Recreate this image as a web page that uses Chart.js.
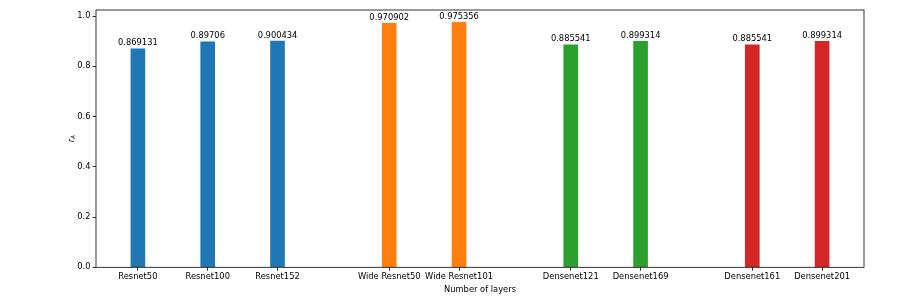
<!DOCTYPE html>
<html>
<head>
<meta charset="utf-8">
<script src="https://cdn.jsdelivr.net/npm/chart.js@4/dist/chart.umd.min.js"></script>
<style>
  html, body { margin: 0; padding: 0; background: #fff; }
  #wrap { width: 913px; height: 305px; position: relative; }
</style>
</head>
<body>
<div id="wrap"><canvas id="c" width="913" height="305"></canvas></div>
<script>
// ---- data ----
const categories = ["Resnet50", "Resnet100", "Resnet152", "Wide Resnet50", "Wide Resnet101",
                    "Densenet121", "Densenet169", "Densenet161", "Densenet201"];
const positions = [0, 1, 2, 3.6, 4.6, 6.2, 7.2, 8.8, 9.8];
const values = [0.869131, 0.89706, 0.900434, 0.970902, 0.975356, 0.885541, 0.899314, 0.885541, 0.899314];
const valueLabels = ["0.869131", "0.89706", "0.900434", "0.970902", "0.975356", "0.885541", "0.899314", "0.885541", "0.899314"];
const groups = [0, 0, 0, 1, 1, 2, 2, 3, 3];
const yTicks = [0, 0.2, 0.4, 0.6, 0.8, 1.0];
const xTitle = "Number of layers";

const palette = ["#1f77b4", "#ff7f0e", "#2ca02c", "#d62728"];
const FONT = "DejaVu Sans";
const FS = 8.33;

const annot = {
  id: 'annot',
  afterDatasetsDraw(chart) {
    const ctx = chart.ctx;
    const meta = chart.getDatasetMeta(0);
    ctx.save();
    ctx.fillStyle = '#000';
    ctx.font = FS + 'px "' + FONT + '"';
    ctx.textAlign = 'center';
    ctx.textBaseline = 'alphabetic';
    meta.data.forEach((bar, i) => {
      ctx.fillText(valueLabels[i], bar.x, bar.y - 3.5);
    });
    ctx.restore();
  },
  afterDraw(chart) {
    const ctx = chart.ctx;
    const a = chart.chartArea;
    ctx.save();
    ctx.strokeStyle = '#000';
    ctx.lineWidth = 0.8;
    ctx.strokeRect(a.left, a.top, a.right - a.left, a.bottom - a.top);
    // x title
    ctx.fillStyle = '#000';
    ctx.font = FS + 'px "' + FONT + '"';
    ctx.textAlign = 'center';
    ctx.textBaseline = 'middle';
    ctx.fillText(xTitle, (a.left + a.right) / 2, 289.5);
    // y title: r_A (italic, subscript)
    ctx.translate(70.5, (a.top + a.bottom) / 2);
    ctx.rotate(-Math.PI / 2);
    ctx.font = 'italic ' + FS + 'px "' + FONT + '"';
    ctx.textAlign = 'left';
    ctx.textBaseline = 'alphabetic';
    const rw = ctx.measureText('r').width;
    ctx.font = 'italic ' + (FS * 0.7) + 'px "' + FONT + '"';
    const aw = ctx.measureText('A').width;
    const total = rw + aw;
    ctx.font = 'italic ' + FS + 'px "' + FONT + '"';
    ctx.fillText('r', -total / 2, 3);
    ctx.font = 'italic ' + (FS * 0.7) + 'px "' + FONT + '"';
    ctx.fillText('A', -total / 2 + rw, 4.5);
    ctx.restore();
  }
};

new Chart(document.getElementById('c'), {
  type: 'bar',
  data: {
    datasets: [{
      data: positions.map((p, i) => ({ x: p, y: values[i] })),
      backgroundColor: groups.map(g => palette[g]),
      borderWidth: 0,
      barThickness: 14
    }]
  },
  options: {
    responsive: false,
    animation: false,
    devicePixelRatio: 1,
    layout: { padding: { left: 0, right: 49, top: 10, bottom: 0 } },
    plugins: { legend: { display: false }, tooltip: { enabled: false } },
    scales: {
      x: {
        type: 'linear',
        min: -0.6,
        max: 10.4,
        offset: false,
        afterBuildTicks(scale) { scale.ticks = positions.map(v => ({ value: v })); },
        afterFit(scale) { scale.height = 37.7; },
        ticks: {
          autoSkip: false,
          maxRotation: 0,
          padding: 1,
          color: '#000',
          font: { family: FONT, size: FS },
          callback(v) { const i = positions.indexOf(v); return i >= 0 ? categories[i] : ''; }
        },
        grid: { display: true, offset: false, drawOnChartArea: false, drawTicks: true, tickLength: 3.5, color: '#000', lineWidth: 0.8 },
        border: { display: false }
      },
      y: {
        min: 0,
        max: 1.0241,
        afterBuildTicks(scale) { scale.ticks = yTicks.map(v => ({ value: v })); },
        afterFit(scale) { scale.width = 96; },
        ticks: {
          padding: 2,
          color: '#000',
          font: { family: FONT, size: FS },
          callback(v) { return v.toFixed(1); }
        },
        grid: { display: true, offset: false, drawOnChartArea: false, drawTicks: true, tickLength: 3.5, color: '#000', lineWidth: 0.8 },
        border: { display: false }
      }
    }
  },
  plugins: [annot]
});
</script>
</body>
</html>
